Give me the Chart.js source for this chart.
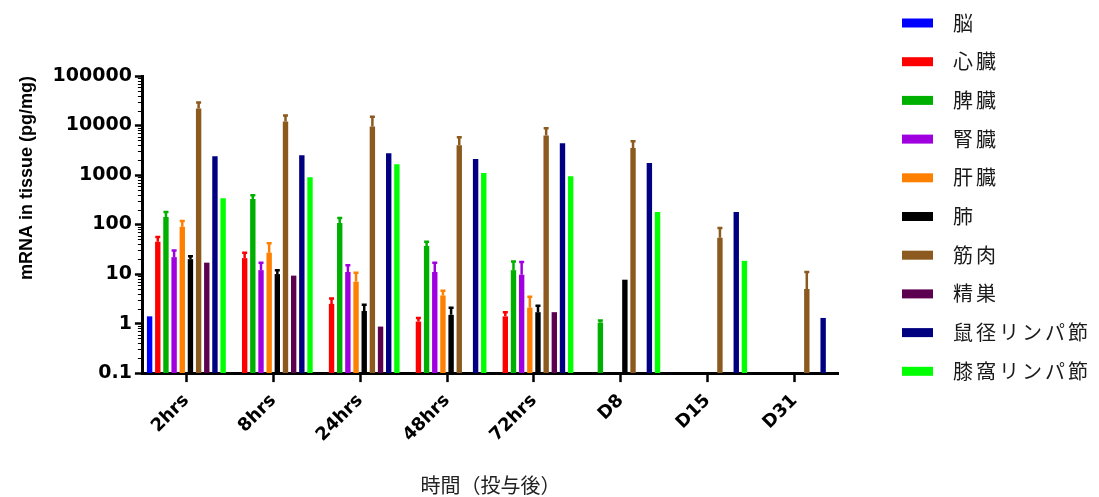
<!DOCTYPE html>
<html lang="ja">
<head>
<meta charset="utf-8">
<title>mRNA in tissue</title>
<script src="https://cdn.jsdelivr.net/npm/chart.js@4"></script>
<style>
  html, body { margin: 0; padding: 0; background: #fff; }
</style>
</head>
<body>
<canvas id="chart" width="1099" height="497"></canvas>
<script>
// time points after dosing
const categories = ['2hrs', '8hrs', '24hrs', '48hrs', '72hrs', 'D8', 'D15', 'D31'];
const yTicks = [0.1, 1, 10, 100, 1000, 10000, 100000];

// mean values (pg/mg), null = not detected
const brain     = [1.4, null, null, null, null, null, null, null];
const heart     = [45, 21, 2.5, 1.1, 1.4, null, null, null];
const spleen    = [142, 330, 108, 37, 12, 1.05, null, null];
const kidney    = [22, 12, 11, 11, 9.7, null, null, null];
const liver     = [90, 27, 7, 3.7, 2.1, null, null, null];
const lung      = [20, 10, 1.8, 1.5, 1.7, 7.7, null, null];
const muscle    = [22000, 12000, 9600, 4000, 6300, 3500, 54, 5.0];
const testis    = [17, 9.3, 0.87, null, 1.7, null, null, null];
const inguinal  = [2400, 2500, 2750, 2100, 4400, 1740, 180, 1.3];
const popliteal = [340, 900, 1650, 1100, 950, 180, 18.5, null];

// upper end of error bars
const heartErr  = [56, 27, 3.2, 1.3, 1.7, null, null, null];
const spleenErr = [180, 390, 135, 45, 18, 1.15, null, null];
const kidneyErr = [30, 17, 15, 17, 17.6, null, null, null];
const liverErr  = [118, 42, 10.6, 4.6, 3.5, null, null, null];
const lungErr   = [23, 12, 2.4, 2.1, 2.3, null, null, null];
const muscleErr = [29000, 16000, 15000, 5800, 8800, 4800, 85, 11];

const series = [
  { label: '脳', color: '#0000ff', data: brain },
  { label: '心臓', color: '#ff0000', data: heart, err: heartErr },
  { label: '脾臓', color: '#00b000', data: spleen, err: spleenErr },
  { label: '腎臓', color: '#a000e0', data: kidney, err: kidneyErr },
  { label: '肝臓', color: '#ff8000', data: liver, err: liverErr },
  { label: '肺', color: '#000000', data: lung, err: lungErr },
  { label: '筋肉', color: '#8c5a1e', data: muscle, err: muscleErr },
  { label: '精巣', color: '#5c0050', data: testis },
  { label: '鼠径リンパ節', color: '#000080', data: inguinal },
  { label: '膝窩リンパ節', color: '#00ff00', data: popliteal }
];

const SANS = '"Liberation Sans", Arial, sans-serif';
const WIDE = '"DejaVu Sans", sans-serif';
const CJK = '"Noto Sans CJK JP", sans-serif';

// upper error bars drawn on top of each bar
const errorBars = {
  id: 'errorBars',
  afterDatasetsDraw(chart) {
    const ctx = chart.ctx;
    const y = chart.scales.y;
    chart.data.datasets.forEach((ds, i) => {
      if (!ds.errorUpper) return;
      const meta = chart.getDatasetMeta(i);
      ctx.save();
      ctx.strokeStyle = ds.backgroundColor;
      ctx.lineWidth = 2.5;
      meta.data.forEach((bar, j) => {
        const up = ds.errorUpper[j];
        if (up == null || ds.data[j] == null) return;
        const top = y.getPixelForValue(up);
        ctx.beginPath();
        ctx.moveTo(bar.x, bar.y);
        ctx.lineTo(bar.x, top);
        ctx.moveTo(bar.x - 2.5, top);
        ctx.lineTo(bar.x + 2.5, top);
        ctx.stroke();
      });
      ctx.restore();
    });
  }
};

// small minor ticks for the log axis
const minorTicks = {
  id: 'minorTicks',
  afterDraw(chart) {
    const ctx = chart.ctx;
    const y = chart.scales.y;
    const x0 = chart.chartArea.left;
    ctx.save();
    ctx.strokeStyle = '#000';
    ctx.lineWidth = 1;
    for (let i = 0; i < yTicks.length - 1; i++) {
      for (let k = 2; k <= 9; k++) {
        const py = Math.round(y.getPixelForValue(yTicks[i] * k)) + 0.5;
        ctx.beginPath();
        ctx.moveTo(x0 - 5, py);
        ctx.lineTo(x0, py);
        ctx.stroke();
      }
    }
    ctx.restore();
  }
};

// legend on the right side
const sideLegend = {
  id: 'sideLegend',
  afterDraw(chart) {
    const ctx = chart.ctx;
    ctx.save();
    ctx.font = '20px ' + CJK;
    ctx.textBaseline = 'middle';
    ctx.letterSpacing = '3px';
    chart.data.datasets.forEach((ds, i) => {
      const cy = 23 + i * 38.7;
      ctx.fillStyle = ds.backgroundColor;
      ctx.fillRect(902, cy - 4.5, 31, 9);
      ctx.fillStyle = '#1a1a1a';
      ctx.fillText(ds.label, 953, cy);
    });
    ctx.restore();
  }
};

new Chart(document.getElementById('chart'), {
  type: 'bar',
  data: {
    labels: categories,
    datasets: series.map(s => ({
      label: s.label,
      data: s.data,
      errorUpper: s.err || null,
      backgroundColor: s.color,
      borderWidth: 0
    }))
  },
  options: {
    responsive: false,
    animation: false,
    categoryPercentage: 0.94,
    barPercentage: 0.66,
    layout: { padding: { left: 16, right: 261, top: 76, bottom: 0 } },
    plugins: {
      legend: { display: false },
      tooltip: { enabled: false }
    },
    scales: {
      x: {
        grid: { offset: false, drawOnChartArea: false, tickLength: 9, tickWidth: 2.5, color: '#000' },
        border: { color: '#000', width: 3 },
        ticks: {
          color: '#000',
          font: { family: WIDE, size: 18, weight: 'bold' },
          minRotation: 45,
          maxRotation: 45,
          padding: 8
        },
        title: {
          display: true,
          text: '時間（投与後）',
          color: '#222',
          font: { family: CJK, size: 20 },
          padding: { top: 19, bottom: 0 }
        }
      },
      y: {
        type: 'logarithmic',
        min: 0.1,
        max: 100000,
        afterBuildTicks: scale => {
          scale.ticks = yTicks.map(v => ({ value: v, major: true }));
        },
        grid: { drawOnChartArea: false, tickLength: 8, tickWidth: 2.5, color: '#000' },
        border: { color: '#000', width: 3 },
        ticks: {
          color: '#000',
          autoSkip: false,
          font: { family: WIDE, size: 19, weight: 'bold' },
          padding: 3,
          callback: v => String(v)
        },
        title: {
          display: true,
          text: 'mRNA in tissue (pg/mg)',
          align: 'end',
          color: '#000',
          font: { family: SANS, size: 18, weight: 'bold' },
          padding: { top: 0, bottom: 12 }
        }
      }
    }
  },
  plugins: [errorBars, minorTicks, sideLegend]
});
</script>
</body>
</html>
